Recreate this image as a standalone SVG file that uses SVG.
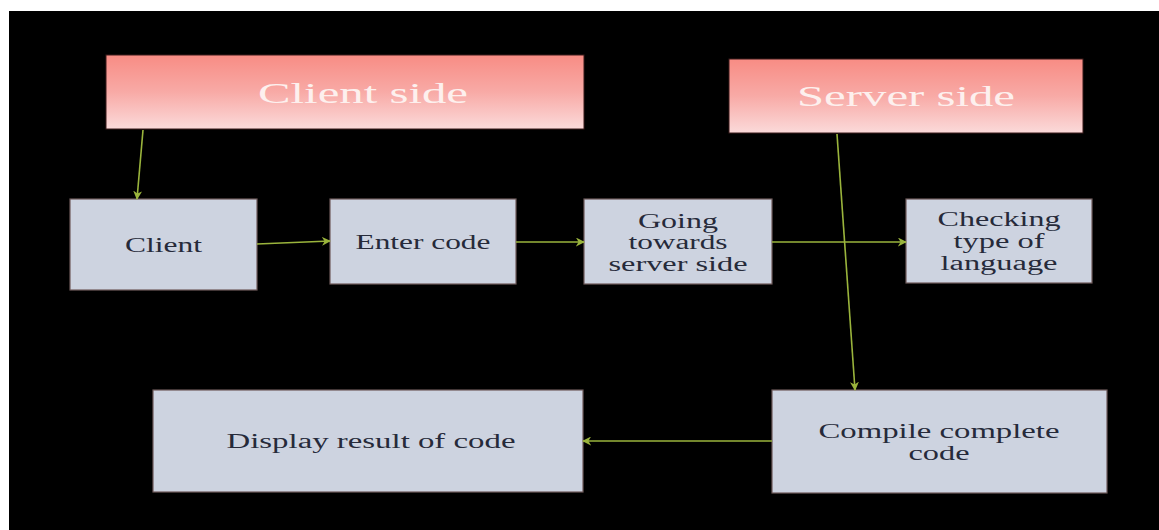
<svg xmlns="http://www.w3.org/2000/svg" width="1159" height="530" viewBox="0 0 1159 530">
<defs>
<linearGradient id="pink" x1="0" y1="0" x2="0" y2="1">
<stop offset="0" stop-color="#f88c84"/>
<stop offset="0.5" stop-color="#f8aaa6"/>
<stop offset="1" stop-color="#fbdada"/>
</linearGradient>
<marker id="arr" viewBox="0 0 10 10" refX="9" refY="5" markerWidth="9" markerHeight="9" orient="auto" markerUnits="userSpaceOnUse">
<path d="M0,0 L10,5 L0,10 L3,5 Z" fill="#9ab43c"/>
</marker>
<style>
.hdr{fill:url(#pink);stroke:#3a1a1a;stroke-width:1}
.box{fill:#cdd3e0;stroke:#6e5a5a;stroke-width:1.2}
.ht{font-family:"Liberation Serif",serif;font-size:30px;fill:#fdf0ee;text-anchor:middle}
.bt{font-family:"Liberation Serif",serif;font-size:20px;fill:#262a3a;text-anchor:middle}
.cn{stroke:#9ab43c;stroke-width:1.6;fill:none;marker-end:url(#arr)}
</style>
</defs>
<rect x="0" y="0" width="1159" height="530" fill="#ffffff"/>
<rect x="9" y="11" width="1150" height="519" fill="#000000"/>
<g id="client-side">
<rect class="hdr" x="106" y="55" width="478" height="74"/>
<text class="ht" x="363" y="103" textLength="210" lengthAdjust="spacingAndGlyphs">Client  side</text>
</g>
<g id="server-side">
<rect class="hdr" x="729" y="59" width="354" height="74"/>
<text class="ht" x="906" y="106" textLength="218" lengthAdjust="spacingAndGlyphs">Server side</text>
</g>
<g id="client">
<rect class="box" x="70" y="199" width="187" height="91"/>
<text class="bt" x="163.5" y="252" textLength="77" lengthAdjust="spacingAndGlyphs">Client</text>
</g>
<g id="enter-code">
<rect class="box" x="330" y="199" width="186" height="85"/>
<text class="bt" x="423" y="249" textLength="135" lengthAdjust="spacingAndGlyphs">Enter code</text>
</g>
<g id="going">
<rect class="box" x="584" y="199" width="188" height="85"/>
<text class="bt" x="678" y="228" textLength="80" lengthAdjust="spacingAndGlyphs">Going</text>
<text class="bt" x="678" y="249" textLength="99" lengthAdjust="spacingAndGlyphs">towards</text>
<text class="bt" x="678" y="271" textLength="139" lengthAdjust="spacingAndGlyphs">server side</text>
</g>
<g id="checking">
<rect class="box" x="906" y="199" width="186" height="84"/>
<text class="bt" x="999" y="226" textLength="123" lengthAdjust="spacingAndGlyphs">Checking</text>
<text class="bt" x="999" y="248" textLength="91" lengthAdjust="spacingAndGlyphs">type of</text>
<text class="bt" x="999" y="270" textLength="117" lengthAdjust="spacingAndGlyphs">language</text>
</g>
<g id="display">
<rect class="box" x="153" y="390" width="430" height="102"/>
<text class="bt" x="371" y="448" textLength="289" lengthAdjust="spacingAndGlyphs">Display result of code</text>
</g>
<g id="compile">
<rect class="box" x="772" y="390" width="335" height="103"/>
<text class="bt" x="939" y="438" textLength="241" lengthAdjust="spacingAndGlyphs">Compile complete</text>
<text class="bt" x="939" y="460" textLength="61" lengthAdjust="spacingAndGlyphs">code</text>
</g>
<g id="connectors">
<line class="cn" x1="143" y1="130" x2="137" y2="199"/>
<line class="cn" x1="257" y1="244" x2="330" y2="241"/>
<line class="cn" x1="516" y1="242" x2="584" y2="242"/>
<line class="cn" x1="772" y1="242" x2="906" y2="242"/>
<line class="cn" x1="837" y1="134" x2="855" y2="390"/>
<line class="cn" x1="772" y1="441" x2="583" y2="441"/>
</g>
</svg>
